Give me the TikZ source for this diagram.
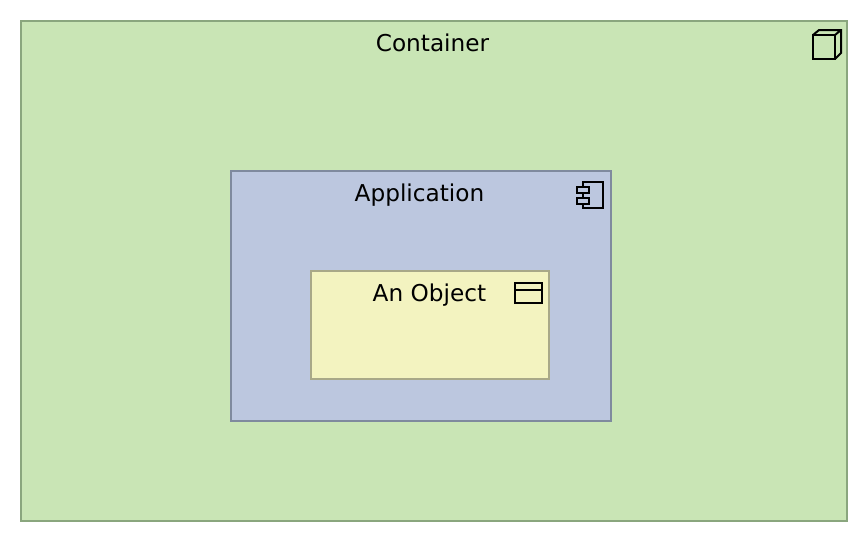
\documentclass[tikz,border=0pt]{standalone}
\usepackage{fontspec}
\setmainfont{DejaVu Sans}
\definecolor{cfill}{HTML}{C9E5B5}
\definecolor{cline}{HTML}{8AA67E}
\definecolor{afill}{HTML}{BCC7DF}
\definecolor{aline}{HTML}{7F8A9E}
\definecolor{ofill}{HTML}{F3F3C0}
\definecolor{oline}{HTML}{A8A888}
\tikzset{
  box/.style={draw,line width=2pt,anchor=north west,inner sep=0pt,outer sep=0pt},
  caption/.style={inner sep=0pt,text=black,font=\fontsize{23.2}{28}\selectfont,anchor=base},
  glyph/.style={draw=black,line width=2pt,line join=miter}
}
\begin{document}
\begin{tikzpicture}[x=1pt,y=-1pt]
\useasboundingbox (0,0) rectangle (868,542);
\node[box,fill=cfill,draw=cline,minimum width=826pt,minimum height=500pt] (container) at (21,21) {};
\node[box,fill=afill,draw=aline,minimum width=380pt,minimum height=250pt] (application) at (231,171) {};
\node[box,fill=ofill,draw=oline,minimum width=238pt,minimum height=108pt] (object) at (311,271) {};
\node[caption] (containerlabel) at (432.5,51.5) {Container};
\node[caption] (applicationlabel) at (419.5,201.5) {Application};
\node[caption] (objectlabel) at (429.5,301.5) {An Object};
% cube icon
\draw[glyph] (813,35) rectangle (835,59);
\draw[glyph] (813,35) -- (819,30) -- (841,30) -- (841,53) -- (835,59) (835,35) -- (841,30);
% component icon
\draw[glyph] (583,182) rectangle (603,208);
\draw[glyph,fill=afill] (577,187) rectangle (589,192.5);
\draw[glyph,fill=afill] (577,198) rectangle (589,203.5);
% object icon
\draw[glyph] (515,282.5) rectangle (541.5,302.5);
\draw[glyph] (515,289.5) -- (541.5,289.5);
\end{tikzpicture}
\end{document}
